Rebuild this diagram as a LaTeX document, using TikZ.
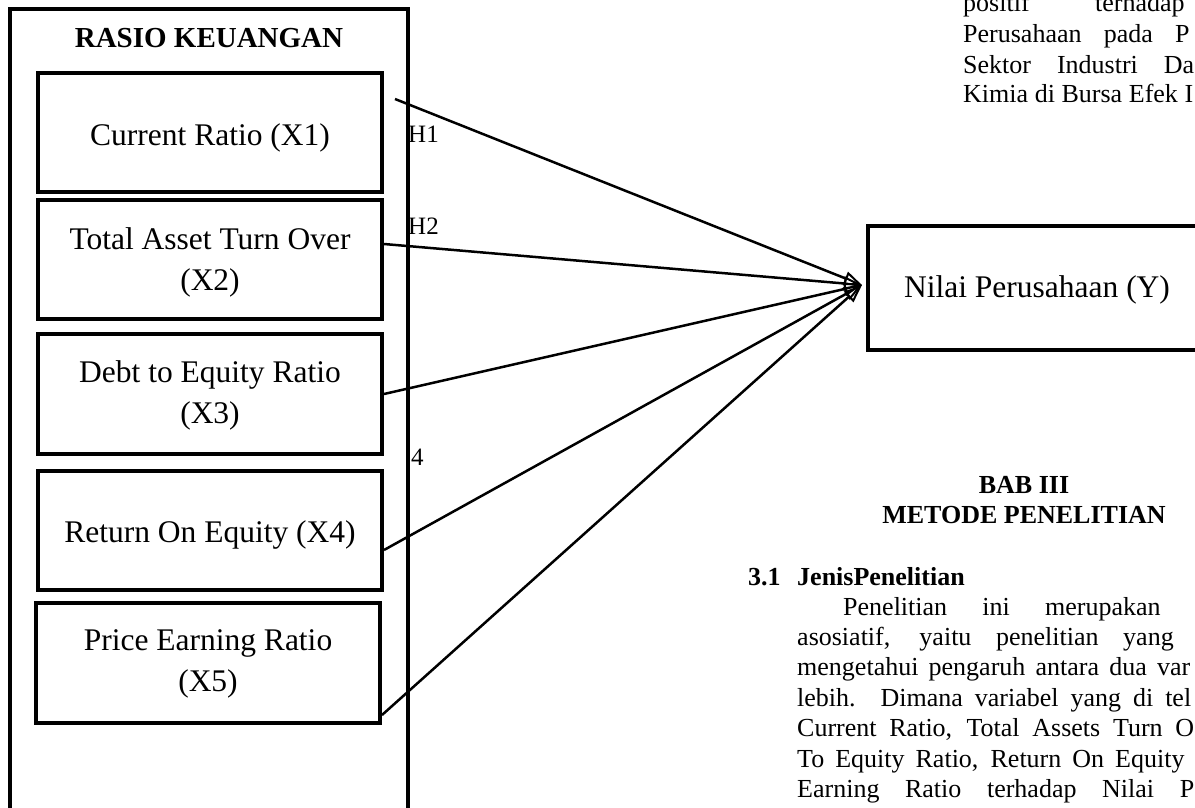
\documentclass[tikz,border=0pt]{standalone}
\usepackage{fontspec}
\setmainfont{Liberation Serif}
\usetikzlibrary{arrows.meta,calc}
\begin{document}
\begin{tikzpicture}[x=1pt,y=-1pt,
  varbox/.style={draw, line width=4pt, minimum width=344pt, minimum height=120pt, inner sep=0pt},
  boxtext/.style={align=center, inner sep=0pt, font=\fontsize{31.5}{41}\selectfont},
  conn/.style={line width=2.5pt, -{Triangle[open,length=18pt,width=14pt,line width=2pt]}},
  lbl/.style={anchor=base west, inner sep=0pt, font=\fontsize{25}{30}\selectfont},
  body/.style={anchor=base west, inner sep=0pt, font=\fontsize{26}{30}\selectfont},
  head/.style={anchor=base, inner sep=0pt, font=\bfseries\fontsize{26}{30}\selectfont}]
\useasboundingbox (0,0) rectangle (1195,807);
\clip (0,0) rectangle (1195,807);
% outer frame
\draw[line width=4pt] (10,9) rectangle (408,840);
\node[anchor=base, inner sep=0pt, font=\bfseries\fontsize{29}{34}\selectfont] (title) at (209,47) {RASIO KEUANGAN};
% variable boxes
\node[varbox, minimum height=119.5pt] (b1) at (210,132.25) {};
\node[varbox, minimum height=119pt] (b2) at (210,259.5) {};
\node[varbox] (b3) at (210,394) {};
\node[varbox, minimum height=119pt] (b4) at (210,530.5) {};
\node[varbox] (b5) at (208,663) {};
\node[boxtext] (t1) at ($(b1.center)+(0,6)$) {Current Ratio (X1)};
\node[boxtext] (t2) at ($(b2.center)+(0,2.5)$) {Total Asset Turn Over\\(X2)};
\node[boxtext] (t3) at ($(b3.center)+(0,1)$) {Debt to Equity Ratio\\(X3)};
\node[boxtext] (t4) at ($(b4.center)+(0,4)$) {Return On Equity (X4)};
\node[boxtext] (t5) at ($(b5.center)+(0,1)$) {Price Earning Ratio\\(X5)};
% dependent
\node[draw, line width=4pt, minimum width=339pt, minimum height=124.5pt, inner sep=0pt] (Y) at (1037,287.75) {};
\node[boxtext] (ty) at ($(Y.center)+(0,2)$) {Nilai Perusahaan (Y)};
\coordinate (tip) at (862,285);
\coordinate (s1) at (395,99);
% connectors
\draw[conn] (s1) -- (tip);
\draw[conn] ($(b2.east)+(0,-15.5)$) -- (tip);
\draw[conn] (b3.east) -- (tip);
\draw[conn] ($(b4.east)+(0,19.5)$) -- (tip);
\draw[conn] ($(b5.east)+(0,52)$) -- (tip);
% labels
\node[lbl] (h1) at (408,142) {H1};
\node[lbl] (h2) at (408,234) {H2};
\node[lbl] (h4) at (411,465) {4};
% top-right text
\node[body] (p0) at (963,11) {\makebox[221.5pt][s]{positif terhadap}};
\node[body] (p1) at (963,42) {\makebox[226.5pt][s]{Perusahaan pada P}};
\node[body] (p2) at (963,73) {\makebox[231pt][s]{Sektor Industri Da}};
\node[body] (p3) at (963,102) {\makebox[230pt][s]{Kimia di Bursa Efek I}};
% chapter heading
\node[head] (bab) at (1024,493) {BAB III};
\node[head] (met) at (1024,523) {METODE PENELITIAN};
\node[body, font=\bfseries\fontsize{26}{30}\selectfont] (sec) at (748,585) {3.1};
\node[body, font=\bfseries\fontsize{26}{30}\selectfont] (sect) at (797,585) {JenisPenelitian};
% paragraph
\node[body] (q1) at (843,615) {\makebox[317.5pt][s]{Penelitian ini merupakan}};
\node[body] (q2) at (797,645) {\makebox[376.5pt][s]{asosiatif, yaitu penelitian yang}};
\node[body] (q3) at (797,675) {\makebox[393pt][s]{mengetahui pengaruh antara dua var}};
\node[body] (q4) at (797,706) {\makebox[394pt][s]{lebih. Dimana variabel yang di tel}};
\node[body] (q5) at (797,736) {\makebox[397pt][s]{Current Ratio, Total Assets Turn O}};
\node[body] (q6) at (797,767) {\makebox[387.3pt][s]{To Equity Ratio, Return On Equity}};
\node[body] (q7) at (797,797) {\makebox[397pt][s]{Earning Ratio terhadap Nilai P}};
\end{tikzpicture}
\end{document}
